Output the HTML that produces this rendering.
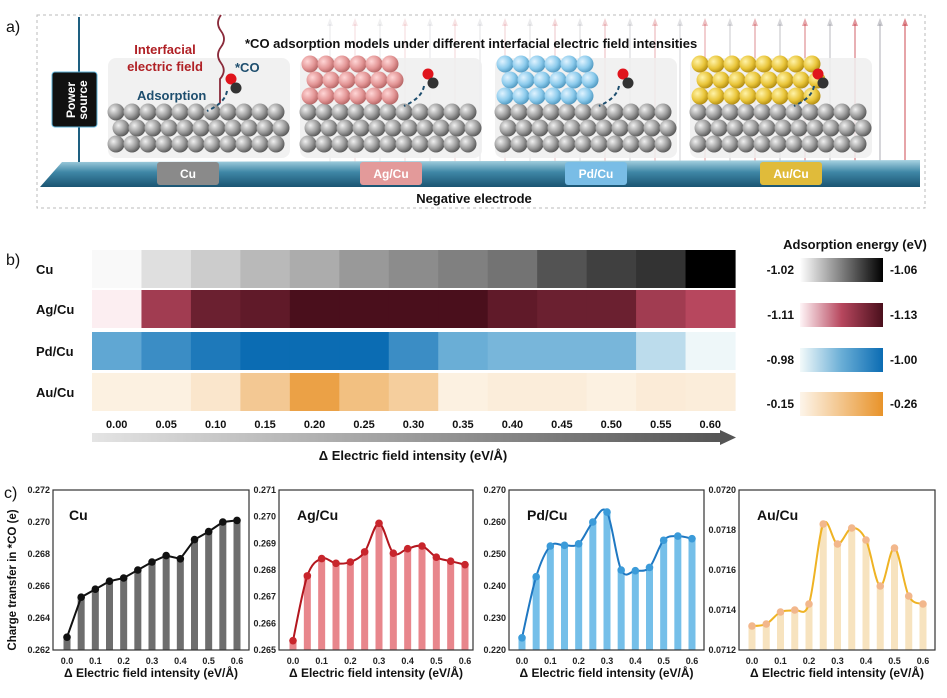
<!DOCTYPE html>
<html><head><meta charset="utf-8">
<style>
html,body{margin:0;padding:0;background:#fff;}
body{width:947px;height:693px;overflow:hidden;font-family:"Liberation Sans",Arial,sans-serif;}
svg text{font-family:"Liberation Sans",Arial,sans-serif;}
</style></head>
<body>
<svg id="fig" width="947" height="693" viewBox="0 0 947 693" xmlns="http://www.w3.org/2000/svg">
<defs>
  <radialGradient id="sg" cx="35%" cy="35%" r="70%"><stop offset="0" stop-color="#f0f0f0"/><stop offset="0.6" stop-color="#9a9a9a"/><stop offset="1" stop-color="#555"/></radialGradient>
  <radialGradient id="sp" cx="35%" cy="35%" r="70%"><stop offset="0" stop-color="#ffd6d6"/><stop offset="0.6" stop-color="#e39696"/><stop offset="1" stop-color="#b46464"/></radialGradient>
  <radialGradient id="sb" cx="35%" cy="35%" r="70%"><stop offset="0" stop-color="#e0f3ff"/><stop offset="0.6" stop-color="#8ccbec"/><stop offset="1" stop-color="#4f97bf"/></radialGradient>
  <radialGradient id="sy" cx="35%" cy="35%" r="70%"><stop offset="0" stop-color="#fff3a8"/><stop offset="0.6" stop-color="#e9c53a"/><stop offset="1" stop-color="#b08a10"/></radialGradient>
  <linearGradient id="slab" x1="0" y1="0" x2="0" y2="1"><stop offset="0" stop-color="#a9d3e2"/><stop offset="0.45" stop-color="#3f87a6"/><stop offset="1" stop-color="#1a5472"/></linearGradient>
  <linearGradient id="arr" x1="0" y1="0" x2="1" y2="0"><stop offset="0" stop-color="#e4e4e4"/><stop offset="1" stop-color="#555"/></linearGradient>
  <linearGradient id="cbCu" x1="0" x2="1"><stop offset="0" stop-color="#ffffff"/><stop offset="1" stop-color="#000000"/></linearGradient>
  <linearGradient id="cbAg" x1="0" x2="1"><stop offset="0" stop-color="#fff5f7"/><stop offset="0.5" stop-color="#b7475e"/><stop offset="1" stop-color="#4a0f1c"/></linearGradient>
  <linearGradient id="cbPd" x1="0" x2="1"><stop offset="0" stop-color="#f3fafa"/><stop offset="0.5" stop-color="#6aaed6"/><stop offset="1" stop-color="#0b6cb3"/></linearGradient>
  <linearGradient id="cbAu" x1="0" x2="1"><stop offset="0" stop-color="#fdf5ea"/><stop offset="1" stop-color="#e8932a"/></linearGradient>
</defs>

<g id="panelA">
  <text x="6" y="32" font-size="16" fill="#111">a)</text>
  <rect x="37" y="15" width="888" height="193" fill="none" stroke="#bbb" stroke-dasharray="3,3"/>
  <g id="fieldArrows"></g>
  <polygon points="40,187 62,162 920,160 920,187" fill="url(#slab)"/>
  <line x1="79" y1="17" x2="79" y2="162" stroke="#1e5f80" stroke-width="2"/>
  <rect x="52" y="72" width="45" height="55" rx="3" fill="#111" stroke="#5fb3d8"/>
  <text transform="translate(78,100) rotate(-90)" text-anchor="middle" font-size="12" font-weight="bold" fill="#fff"><tspan x="0" dy="-3">Power</tspan><tspan x="0" dy="12">source</tspan></text>
  <g id="models"></g>
  <text x="175" y="54" font-size="13" font-weight="bold" fill="#b02025" text-anchor="middle"><tspan x="165" dy="0">Interfacial</tspan><tspan x="165" dy="17">electric field</tspan></text>
  <path d="M221 15 q-6 8 0 16 q6 8 0 16 q-6 8 0 16 q6 8 -1 16 l0 24" fill="none" stroke="#8a2a3a" stroke-width="1.8"/>
  <text x="235" y="72" font-size="13" font-weight="bold" fill="#1e4e6e">*CO</text>
  <text x="137" y="100" font-size="13" font-weight="bold" fill="#1e4e6e">Adsorption</text>
  <text x="245" y="48" font-size="13" font-weight="bold" fill="#111">*CO adsorption models under different  interfacial electric field intensities</text>
  <text x="474" y="203" font-size="13" font-weight="bold" fill="#111" text-anchor="middle">Negative electrode</text>
</g>

<g id="panelB">
  <text x="6" y="265" font-size="16" fill="#111">b)</text>
  <g id="heat"></g>
  <text x="855" y="249" font-size="13" font-weight="bold" fill="#111" text-anchor="middle">Adsorption energy (eV)</text>
  <g id="cbars"></g>
  <rect x="92" y="433" width="630" height="9" fill="url(#arr)"/>
  <polygon points="720,430 736,437.5 720,445" fill="#555"/>
  <text x="413" y="460" font-size="13" font-weight="bold" fill="#111" text-anchor="middle">Δ Electric field intensity (eV/Å)</text>
</g>

<g id="panelC">
  <text x="4" y="498" font-size="16" fill="#111">c)</text>
  <text transform="translate(16,580) rotate(-90)" text-anchor="middle" font-size="11.5" font-weight="bold" fill="#111">Charge transfer in *CO (e)</text>
  <g id="charts"></g>
</g>
</svg>

<script>
const fieldLabels = ["0.00","0.05","0.10","0.15","0.20","0.25","0.30","0.35","0.40","0.45","0.50","0.55","0.60"];
const rowNames = ["Cu","Ag/Cu","Pd/Cu","Au/Cu"];
const energyCu = [-1.021,-1.025,-1.028,-1.031,-1.033,-1.036,-1.038,-1.040,-1.042,-1.047,-1.050,-1.052,-1.060];
const energyAg = [-1.1104,-1.122,-1.127,-1.128,-1.130,-1.130,-1.130,-1.130,-1.128,-1.127,-1.127,-1.122,-1.120];
const energyPd = [-0.991,-0.995,-0.998,-1.000,-1.000,-1.000,-0.995,-0.990,-0.989,-0.989,-0.989,-0.984,-0.9804];
const energyAu = [-0.155,-0.155,-0.167,-0.200,-0.244,-0.210,-0.194,-0.155,-0.159,-0.159,-0.155,-0.161,-0.159];
const cbMin = ["-1.02","-1.11","-0.98","-0.15"];
const cbMax = ["-1.06","-1.13","-1.00","-0.26"];

const xVals = [0,0.05,0.1,0.15,0.2,0.25,0.3,0.35,0.4,0.45,0.5,0.55,0.6];
const xTicks = ["0.0","0.1","0.2","0.3","0.4","0.5","0.6"];
const chargeCu = [0.2628,0.2653,0.2658,0.2663,0.2665,0.2670,0.2675,0.2679,0.2677,0.2689,0.2694,0.2700,0.2701];
const chargeAg = [0.26535,0.26778,0.26843,0.26825,0.26830,0.26868,0.26975,0.26863,0.26880,0.26890,0.26848,0.26833,0.26820];
const chargePd = [0.2238,0.2429,0.2525,0.2527,0.2532,0.2600,0.2631,0.2450,0.2448,0.2458,0.2543,0.2556,0.2548];
const chargeAu = [0.07132,0.07133,0.07139,0.07140,0.07143,0.07183,0.07173,0.07181,0.07175,0.07152,0.07171,0.07147,0.07143];
const ticksCu = ["0.262","0.264","0.266","0.268","0.270","0.272"];
const ticksAg = ["0.265","0.266","0.267","0.268","0.269","0.270","0.271"];
const ticksPd = ["0.220","0.230","0.240","0.250","0.260","0.270"];
const ticksAu = ["0.0712","0.0714","0.0716","0.0718","0.0720"];

const NS="http://www.w3.org/2000/svg";
function mk(tag,attrs,parent){const e=document.createElementNS(NS,tag);for(const k in attrs)e.setAttribute(k,attrs[k]);parent.appendChild(e);return e;}

(function(){
  const fa=document.getElementById('fieldArrows');
  for(let i=0;i<24;i++){
    const x=330+i*25; const t=i/23;
    const col = i%2? `rgba(200,60,70,${0.12+0.5*t*t})` : `rgba(150,150,160,${0.15+0.4*t*t})`;
    const l=mk('line',{x1:x,y1:180,x2:x,y2:24,stroke:col,'stroke-width':1.5},fa);
    
    
    const h=mk('polygon',{points:`${x-3},26 ${x},18 ${x+3},26`,fill:col},fa);
    
    
  }
  const g=document.getElementById('models');
  const boxes=[{x:108,fill:'url(#sg)',top:false,lab:'Cu',lc:'#8a8a8a'},{x:300,fill:'url(#sp)',top:true,lab:'Ag/Cu',lc:'#e39a9a'},{x:495,fill:'url(#sb)',top:true,lab:'Pd/Cu',lc:'#79bde6'},{x:690,fill:'url(#sy)',top:true,lab:'Au/Cu',lc:'#e0bb3a'}];
  boxes.forEach((b,bi)=>{
    const bg=mk('rect',{x:b.x,y:58,width:182,height:100,rx:8,fill:'#efefef',opacity:0.85},g);
    
    
    for(let r=0;r<3;r++)for(let c=0;c<11;c++){
      const s=mk('circle',{cx:b.x+8+c*16+(r%2)*5,cy:112+r*16,r:8.5,fill:'url(#sg)'},g);
      
      
    }
    if(b.top){
      for(let r=0;r<3;r++)for(let c=0;c<(bi==3?8:6);c++){
        const s=mk('circle',{cx:b.x+10+c*16+(r%2)*5,cy:64+r*16,r:8.5,fill:b.fill},g);
        
        
      }
    }
    const ox=b.x+(bi==0?123:128), oy=bi==0?79:74;
    const o=mk('circle',{cx:ox,cy:oy,r:5.5,fill:'#e0141c'},g);
    
    
    const c=mk('circle',{cx:ox+5,cy:oy+9,r:5.5,fill:'#333'},g);
    
    
    const p=mk('path',{d:`M${ox-4} ${oy+12} q-2 12 -20 20`,fill:'none',stroke:'#1e4e6e','stroke-width':2,'stroke-dasharray':'4,3'},g);
    
    
    const lx=[157,360,565,760][bi];
    const lr=mk('rect',{x:lx,y:162,width:62,height:23,rx:3,fill:b.lc},g);
    
    
    const lt=mk('text',{x:lx+31,y:178,'font-size':12,'font-weight':'bold',fill:'#fff','text-anchor':'middle'},g);
    lt.textContent=b.lab;
    
    
  });
})();

(function(){
  const g=document.getElementById('heat');
  const x0=92, x1=735, n=fieldLabels.length, cw=(x1-x0)/n;
  const rowsY=[250,290,332,373], rh=38;
  const data=[energyCu,energyAg,energyPd,energyAu];
  const ranges=[[-1.02,-1.06],[-1.11,-1.13],[-0.98,-1.00],[-0.15,-0.26]];
  const stops=[
    [[255,255,255],[0,0,0]],
    [[255,245,247],[183,71,94],[74,15,28]],
    [[243,250,250],[106,174,214],[11,108,179]],
    [[253,245,234],[232,147,42]]
  ];
  function cmap(st,t){t=Math.max(0,Math.min(1,t));const k=(st.length-1)*t;const i=Math.min(st.length-2,Math.floor(k));const f=k-i;
    return 'rgb('+st[i].map((v,j)=>Math.round(v+(st[i+1][j]-v)*f)).join(',')+')';}
  function xS(i){return x0+i*cw;}
  data.forEach((row,ri)=>{
    const [a,b]=ranges[ri];
    row.forEach((v,ci)=>{
      const t=(v-a)/(b-a);
      const r=mk('rect',{x:xS(ci),y:rowsY[ri],width:cw+0.6,height:rh,fill:cmap(stops[ri],t)},g);
      
      
    });
    const lab=mk('text',{x:36,y:rowsY[ri]+rh/2+5,'font-size':13,'font-weight':'bold',fill:'#111'},g);
    lab.textContent=rowNames[ri];
    
    
  });
  fieldLabels.forEach((l,i)=>{
    const t=mk('text',{x:xS(i)+cw/2,y:428,'font-size':11,'font-weight':'bold',fill:'#111','text-anchor':'middle'},g);
    t.textContent=l;
    
    
  });
  const cb=document.getElementById('cbars');
  const grads=['cbCu','cbAg','cbPd','cbAu'];
  const cy=[258,303,348,392];
  grads.forEach((gid,i)=>{
    const r=mk('rect',{x:800,y:cy[i],width:83,height:24,fill:'url(#'+gid+')'},cb);
    
    
    const a=mk('text',{x:794,y:cy[i]+16,'font-size':12,'font-weight':'bold',fill:'#111','text-anchor':'end'},cb);
    a.textContent=cbMin[i];
    
    
    const b=mk('text',{x:890,y:cy[i]+16,'font-size':12,'font-weight':'bold',fill:'#111'},cb);
    b.textContent=cbMax[i];
    
    
  });
})();

(function(){
  const root=document.getElementById('charts');
  const panels=[
    {name:'Cu',vals:chargeCu,ticks:ticksCu,box:[53,249],x0:67,x1:237,bar:'#6e6e6e',line:'#111',pt:'#111',smooth:false},
    {name:'Ag/Cu',vals:chargeAg,ticks:ticksAg,box:[279,473],x0:293,x1:465,bar:'#e8868c',line:'#b3161e',pt:'#c8252c',smooth:true},
    {name:'Pd/Cu',vals:chargePd,ticks:ticksPd,box:[509,704],x0:522,x1:692,bar:'#75bfe9',line:'#1f78c2',pt:'#3b9bd9',smooth:true},
    {name:'Au/Cu',vals:chargeAu,ticks:ticksAu,box:[739,935],x0:752,x1:923,bar:'#f7e3bf',line:'#efb324',pt:'#f2b78c',smooth:true}
  ];
  const yTop=490, yBot=650;
  panels.forEach((p,pi)=>{
    const g=mk('g',{},root);
    
    
    const lo=parseFloat(p.ticks[0]), hi=parseFloat(p.ticks[p.ticks.length-1]);
    const yS=v=>yBot-(v-lo)/(hi-lo)*(yBot-yTop);
    const xS=v=>p.x0+(v-xVals[0])/(xVals[xVals.length-1]-xVals[0])*(p.x1-p.x0);
    p.vals.forEach((v,i)=>{
      const r=mk('rect',{x:xS(xVals[i])-3.5,y:yS(v),width:7,height:yBot-yS(v),fill:p.bar},g);
      
      
    });
    const pts=p.vals.map((v,i)=>[xS(xVals[i]),yS(v)]);
    let d='M'+pts[0][0]+' '+pts[0][1];
    for(let i=1;i<pts.length;i++){
      if(!p.smooth){d+=' L'+pts[i][0]+' '+pts[i][1];continue;}
      const p0=pts[Math.max(0,i-2)],p1=pts[i-1],p2=pts[i],p3=pts[Math.min(pts.length-1,i+1)];
      const c1=[p1[0]+(p2[0]-p0[0])/6,p1[1]+(p2[1]-p0[1])/6],c2=[p2[0]-(p3[0]-p1[0])/6,p2[1]-(p3[1]-p1[1])/6];
      d+=` C${c1[0]} ${c1[1]} ${c2[0]} ${c2[1]} ${p2[0]} ${p2[1]}`;
    }
    const ln=mk('path',{d:d,fill:'none',stroke:p.line,'stroke-width':2},g);
    
    
    pts.forEach(q=>{
      const c=mk('circle',{cx:q[0],cy:q[1],r:3.8,fill:p.pt},g);
      
      
    });
    const bx=mk('rect',{x:p.box[0],y:yTop,width:p.box[1]-p.box[0],height:yBot-yTop,fill:'none',stroke:'#333','stroke-width':1.2},g);
    
    
    p.ticks.forEach(t=>{
      const y=yS(parseFloat(t));
      const tl=mk('text',{x:p.box[0]-3,y:y+3,'font-size':9,'font-weight':'bold',fill:'#222','text-anchor':'end'},g);
      tl.textContent=t;
      
      
    });
    xTicks.forEach(t=>{
      const tl=mk('text',{x:xS(parseFloat(t)),y:664,'font-size':9,'font-weight':'bold',fill:'#222','text-anchor':'middle'},g);
      tl.textContent=t;
      
      
    });
    const tt=mk('text',{x:p.box[0]+(pi==0?16:18),y:yTop+30,'font-size':14,'font-weight':'bold',fill:'#111'},g);
    tt.textContent=p.name;
    
    
    const xt=mk('text',{x:(p.box[0]+p.box[1])/2,y:677,'font-size':12,'font-weight':'bold',fill:'#111','text-anchor':'middle'},g);
    xt.textContent='Δ Electric field intensity (eV/Å)';
    
    
  });
})();
</script>
</body></html>
